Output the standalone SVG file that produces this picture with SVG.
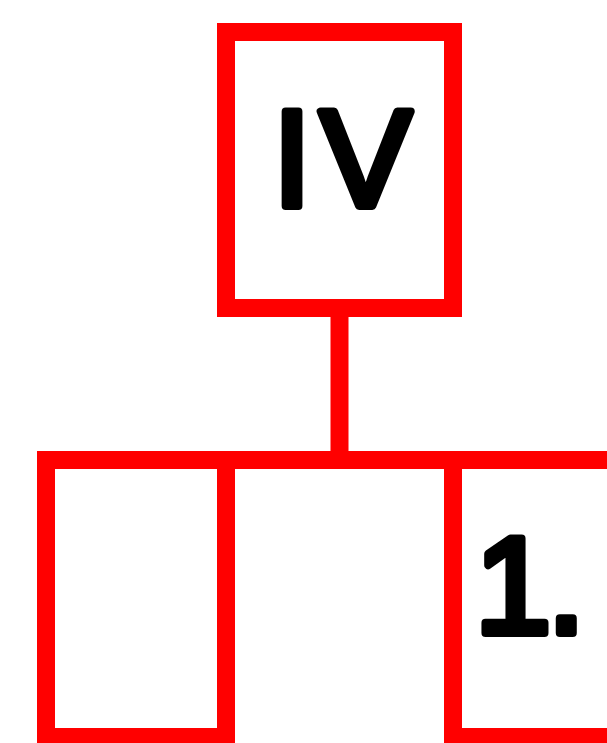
<svg xmlns="http://www.w3.org/2000/svg" width="607" height="743" viewBox="0 0 607 743">
  <style>
    .box { fill: #ffffff; stroke: #ff0000; stroke-width: 18; }
    .conn { fill: none; stroke: #ff0000; stroke-width: 18; }
    .lbl { font-family: "Liberation Sans", Arial, sans-serif; font-weight: normal; font-size: 137px; fill: #000000; stroke: #000000; stroke-width: 8; stroke-linejoin: round; stroke-linecap: round; }
  </style>
  <rect x="0" y="0" width="607" height="743" fill="#ffffff"/>
  <g id="connectors">
    <path class="conn" d="M339.5 316 V452"/>
    <path class="conn" d="M234 460 H445"/>
  </g>
  <g id="node-iv">
    <rect class="box" x="226" y="32" width="227" height="276"/>
    <text class="lbl" x="273" y="206">I<tspan x="320">V</tspan></text>
  </g>
  <g id="node-left">
    <rect class="box" x="46" y="460" width="180" height="277"/>
  </g>
  <g id="node-1">
    <rect class="box" x="453" y="460" width="200" height="277"/>
    <text class="lbl" x="475" y="633" letter-spacing="-4">1.</text>
  </g>
</svg>
